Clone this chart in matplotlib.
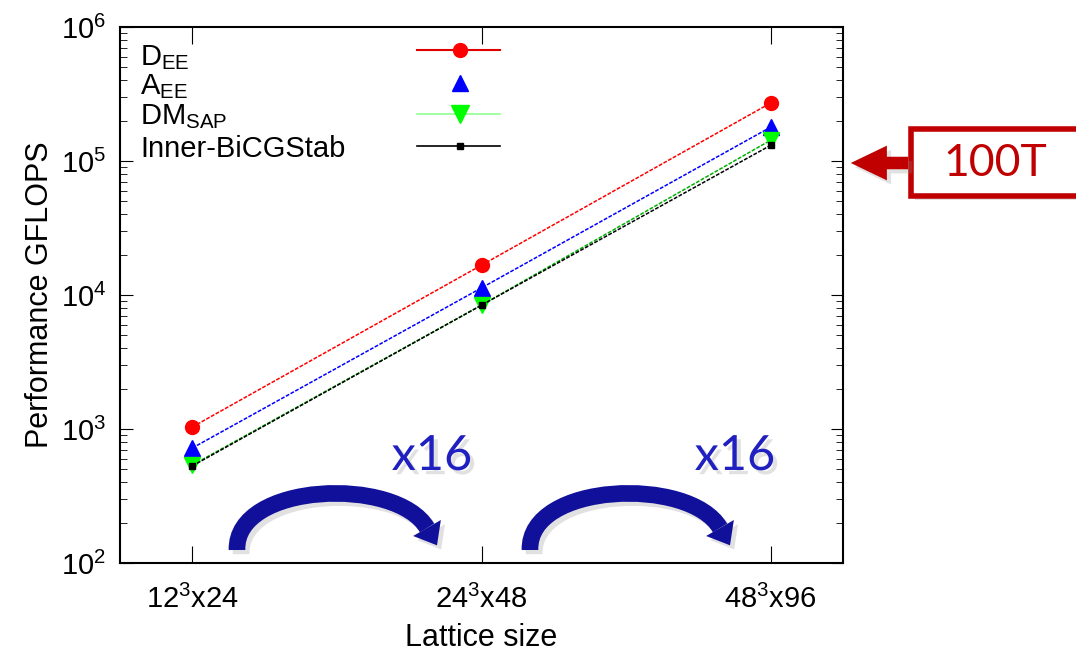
import numpy as np
import matplotlib
matplotlib.use('Agg')
import matplotlib.pyplot as plt
from matplotlib.lines import Line2D
from matplotlib.patches import FancyArrowPatch, Rectangle, PathPatch, Polygon
from matplotlib.path import Path
import matplotlib.patheffects as pe

plt.rcParams['font.family'] = ['Liberation Sans', 'DejaVu Sans']
plt.rcParams['mathtext.fontset'] = 'custom'
plt.rcParams['mathtext.rm'] = 'Liberation Sans'
plt.rcParams['mathtext.it'] = 'Liberation Sans'

# lattice sizes and measured performance (GFLOPS)
lattices = [r'12$^3$x24', r'24$^3$x48', r'48$^3$x96']
d_ee = [1035, 16700, 271000]
a_ee = [721, 11300, 179000]
dm_sap = [538, 8400, 143000]
inner_bicgstab = [530, 8400, 131000]

labels = [r'D$_{\rm EE}$', r'A$_{\rm EE}$', r'DM$_{\rm SAP}$', 'Inner-BiCGStab']
scaling = ['x16', 'x16']
peak_label = '100T'

W, H = 1076, 657
fig = plt.figure(figsize=(W / 100, H / 100), dpi=100)
ax = fig.add_axes([120 / W, 1 - 563 / H, 723 / W, 536 / H])

x = np.arange(len(lattices))
series = [
    (d_ee, dict(color='#ff0000', marker='o', ms=10, mfc='#ff0000', mec='#ff0000')),
    (a_ee, dict(color='#0000ff', marker='^', ms=11, mfc='#0000ff', mec='#0000ff')),
    (dm_sap, dict(color='#00b000', marker='v', ms=12, mfc='#00ff00', mec='#00ff00')),
    (inner_bicgstab, dict(color='#000000', marker='s', ms=5, mfc='#000000', mec='#000000')),
]
for vals, st in series:
    ax.plot(x, vals, ls=(0, (2.5, 1)), lw=1.1, **st)

ax.set_yscale('log')
ax.set_ylim(1e2, 1e6)
ax.set_xlim(-0.25, 2.25)
ax.set_xticks(x)
ax.set_xticklabels(lattices)
ax.tick_params(axis='both', which='both', direction='in', top=True, right=True)
ax.tick_params(axis='y', which='major', length=9, pad=10, labelsize=21)
ax.tick_params(axis='y', which='minor', length=5)
ax.tick_params(axis='x', which='major', length=12, pad=16, labelsize=21)
for s in ax.spines.values():
    s.set_linewidth(1.5)

ax.set_ylabel('Performance GFLOPS', fontsize=22, labelpad=4)
ax.set_xlabel('Lattice size', fontsize=22, labelpad=6)

# key: label text on the left, line sample on the right
rows = [50, 83, 114, 146]
base = [65, 94, 124, 157]
samples = [
    dict(color='#e00000', marker='o', ms=10, mfc='#ff0000', mec='#ff0000', lw=1.5),
    dict(color='none', marker='^', ms=11, mfc='#0000ff', mec='#0000ff'),
    dict(color='#90ff90', marker='v', ms=13, mfc='#00ff00', mec='#00ff00', lw=1.2),
    dict(color='#000000', marker='s', ms=5, mfc='#000000', mec='#000000', lw=1.2),
]
for lab, ry, by, st in zip(labels, rows, base, samples):
    fy = (563 - ry) / 536
    ax.add_line(Line2D([(417 - 120) / 723, (500 - 120) / 723], [fy, fy],
                       transform=ax.transAxes, clip_on=False,
                       **{k: v for k, v in st.items() if k not in ('marker', 'ms', 'mfc', 'mec')}))
    ax.plot([(460 - 120) / 723], [fy], transform=ax.transAxes, ls='none',
            marker=st['marker'], ms=st['ms'], mfc=st['mfc'], mec=st['mec'], clip_on=False)
    ax.text((140 - 120) / 723, (563 - by) / 536, lab, transform=ax.transAxes,
            fontsize=21, va='baseline', ha='left')

# overlay in pixel coordinates for the annotations
ov = fig.add_axes([0, 0, 1, 1], facecolor='none')
ov.set_xlim(0, W)
ov.set_ylim(H, 0)
ov.axis('off')

shadow = [pe.SimplePatchShadow(offset=(3, -3), shadow_rgbFace='#888888', alpha=0.25), pe.Normal()]
line_shadow = [pe.SimpleLineShadow(offset=(3, -3), shadow_color='#888888', alpha=0.25), pe.Normal()]

navy = '#10109a'


def curved_arrow(x0):
    # thick arc from the left foot, head pointing down-right
    p0 = np.array([x0, 550.0])
    c1 = np.array([x0 - 2, 482.0])
    c2 = np.array([x0 + 160, 476.0])
    p1 = np.array([x0 + 190, 528.0])
    body = Path([p0, c1, c2, p1], [Path.MOVETO, Path.CURVE4, Path.CURVE4, Path.CURVE4])
    ov.add_patch(PathPatch(body, facecolor='none', edgecolor=navy, lw=12,
                           capstyle='butt', path_effects=line_shadow))
    d = (p1 - c2) / np.hypot(*(p1 - c2))
    n = np.array([-d[1], d[0]])
    tip = p1 + d * 20
    head = Polygon([p1 + n * 16, tip, p1 - n * 16], closed=True, facecolor=navy,
                   edgecolor='none', path_effects=shadow)
    ov.add_patch(head)


for x0 in [237, 530]:
    curved_arrow(x0)

for txt, cx in zip(scaling, [432, 735]):
    ov.text(cx, 456, txt, fontsize=35, color='#2020c0', family='Lato',
            ha='center', va='center', path_effects=shadow)

# peak marker box and arrow at 10^5
dark_red = '#c00000'
box = Rectangle((911, 129), 200, 67, facecolor='white', edgecolor=dark_red, lw=4,
                clip_on=False)
box.set_path_effects(shadow)
ov.add_patch(box)
ov.text(995, 164, peak_label, fontsize=32, color=dark_red, family='Lato',
        ha='center', va='center')
pk = FancyArrowPatch((911, 163), (848, 163),
                     arrowstyle='simple,head_length=26,head_width=25,tail_width=9',
                     mutation_scale=1, color=dark_red, lw=0)
pk.set_path_effects(shadow)
ov.add_patch(pk)

fig.savefig('out.png', dpi=100)
